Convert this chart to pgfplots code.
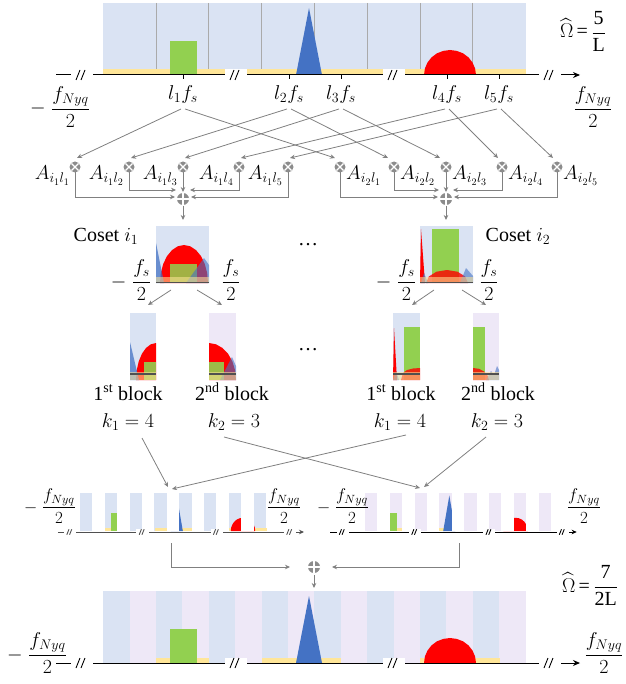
\RequirePackage{fix-cm}
\documentclass[border=0pt]{standalone}
\usepackage{amsmath}
\usepackage{fontspec}
\setmainfont{Liberation Serif}
\usepackage{pgfplots}
\pgfplotsset{compat=1.18}
\usepackage{pgfplotstable}
\usetikzlibrary{arrows.meta}

\definecolor{bgblue}{RGB}{218,227,243}
\definecolor{bgpurp}{RGB}{238,232,247}
\definecolor{yel}{RGB}{255,230,153}
\definecolor{greenc}{RGB}{146,208,80}
\definecolor{bluec}{RGB}{68,114,196}
\definecolor{redc}{RGB}{255,0,0}
\definecolor{arrg}{RGB}{128,128,128}
\definecolor{circg}{RGB}{140,140,140}
\definecolor{vlg}{RGB}{170,170,170}
\definecolor{darkg}{RGB}{80,80,80}

\pgfplotstableread{
x y
170 41
197 41
197 75
170 75
}\greenshape
\pgfplotstableread{
x y
296 75
309 8
322 75
}\trishape
\pgfplotstableread{
x y
476 75
475.1 68.5
472.5 62.5
468.4 57.3
463 53.3
456.7 50.9
450 50
443.3 50.9
437 53.3
431.6 57.3
427.5 62.5
424.9 68.5
424 75
}\redshape

\pgfplotsset{
 /pgfplots/table/FP/.style={y expr={\thisrow{y}+588}},
 /pgfplots/table/LL/.style={x expr={80+(\thisrow{x}-103.2)*0.47},y expr={531-(75-\thisrow{y})*0.53}},
 /pgfplots/table/LR/.style={x expr={365+(\thisrow{x}-129.6)*0.47},y expr={531-(75-\thisrow{y})*0.53}},
}
\tikzset{ar/.style={draw=arrg,line width=0.8pt,-{Stealth[length=5pt,width=4.5pt]}},
 lb/.style={inner sep=0pt,anchor=base}}

\newcommand{\F}[1]{\fontsize{#1}{#1}\selectfont}
\newcommand{\rect}[5]{\addplot[#5,draw=none] coordinates {(#1,#3) (#2,#3) (#2,#4) (#1,#4)};}
\newcommand{\otim}[2]{\fill[circg] (axis cs:#1,#2) circle[radius=5.5pt];
 \draw[white,line width=1.1pt] (axis cs:#1,#2) ++(-3.6pt,-3.6pt) -- ++(7.2pt,7.2pt);
 \draw[white,line width=1.1pt] (axis cs:#1,#2) ++(-3.6pt,3.6pt) -- ++(7.2pt,-7.2pt);}
\newcommand{\oplu}[2]{\fill[circg] (axis cs:#1,#2) circle[radius=6pt];
 \draw[white,line width=1.1pt] (axis cs:#1,#2) ++(-6pt,0pt) -- ++(12pt,0pt);
 \draw[white,line width=1.1pt] (axis cs:#1,#2) ++(0pt,-6pt) -- ++(0pt,12pt);}
\newcommand{\brk}[4]{\fill[white] (axis cs:#1,#2) ++({-11*#3pt},{-5.5*#3pt}) rectangle ++({22*#3pt},{11*#3pt});
 \draw[#4,line width=0.9pt] (axis cs:#1,#2) ++({-6*#3pt},{-5*#3pt}) -- ++({4*#3pt},{10*#3pt});
 \draw[#4,line width=0.9pt] (axis cs:#1,#2) ++({-1*#3pt},{-5*#3pt}) -- ++({4*#3pt},{10*#3pt});}

\begin{document}
\begin{tikzpicture}
\useasboundingbox (0,0) rectangle (625pt,684pt);
\begin{axis}[at={(0pt,0pt)},anchor=south west,width=625pt,height=684pt,scale only axis,
  xmin=0,xmax=625,ymin=0,ymax=684,y dir=reverse,axis lines=none,clip=false]

%%%%%%%%%%%%%%%% TOP PANEL
\rect{103.2}{525.6}{3}{75}{fill=bgblue}
\draw[vlg,line width=0.7pt] (axis cs:156,3)--(axis cs:156,75) (axis cs:208.8,3)--(axis cs:208.8,75)
  (axis cs:261.6,3)--(axis cs:261.6,75) (axis cs:314.4,3)--(axis cs:314.4,75)
  (axis cs:367.2,3)--(axis cs:367.2,75) (axis cs:420,3)--(axis cs:420,75) (axis cs:472.8,3)--(axis cs:472.8,75);
\rect{103.2}{525.6}{69}{75}{fill=yel}
\addplot[fill=greenc,draw=none] table {\greenshape};
\addplot[fill=bluec,draw=none] table {\trishape};
\addplot[fill=redc,draw=none] table {\redshape};
\draw[line width=1pt,-{Stealth[length=7pt,width=6pt]}] (axis cs:56,75) -- (axis cs:580,75);
\draw[line width=0.8pt] (axis cs:183,75)--(axis cs:183,79) (axis cs:289,75)--(axis cs:289,79)
  (axis cs:341,75)--(axis cs:341,79) (axis cs:447,75)--(axis cs:447,79) (axis cs:499,75)--(axis cs:499,79);
\brk{82}{75}{1}{black}
\brk{236}{75}{1}{black}
\brk{394}{75}{1}{black}
\brk{550}{75}{1}{black}
\node[lb,font=\F{20}] at (axis cs:60,114) {$-\;\dfrac{f_{Nyq}}{2}$};
\node[lb,font=\F{20}] at (axis cs:593,114) {$\dfrac{f_{Nyq}}{2}$};
\node[lb,font=\F{20}] at (axis cs:583,38) {$\widehat{\Omega}$\,=\,$\dfrac{\text{5}}{\text{L}}$};
\node[lb,font=\F{20}] at (axis cs:183,100) {$l_1f_s$};
\node[lb,font=\F{20}] at (axis cs:289,100) {$l_2f_s$};
\node[lb,font=\F{20}] at (axis cs:341,100) {$l_3f_s$};
\node[lb,font=\F{20}] at (axis cs:447,100) {$l_4f_s$};
\node[lb,font=\F{20}] at (axis cs:499,100) {$l_5f_s$};

%%%%%%%%%%%%%%%% MULTIPLIERS
\draw[ar] (axis cs:181,109) -- (axis cs:77,158);
\draw[ar] (axis cs:185,109) -- (axis cs:335,158);
\draw[ar] (axis cs:287,109) -- (axis cs:131,158);
\draw[ar] (axis cs:291,109) -- (axis cs:388,158);
\draw[ar] (axis cs:339,109) -- (axis cs:185,158);
\draw[ar] (axis cs:343,109) -- (axis cs:440,158);
\draw[ar] (axis cs:445,109) -- (axis cs:241,158);
\draw[ar] (axis cs:449,109) -- (axis cs:498,158);
\draw[ar] (axis cs:497,109) -- (axis cs:290,158);
\draw[ar] (axis cs:501,109) -- (axis cs:553,158);

\draw[ar] (axis cs:75,172) -- (axis cs:75,197) -- (axis cs:175,197);
\draw[ar] (axis cs:129,172) -- (axis cs:129,190) -- (axis cs:176,190);
\draw[ar] (axis cs:183,172) -- (axis cs:183,192);
\draw[ar] (axis cs:239,172) -- (axis cs:239,190) -- (axis cs:190,190);
\draw[ar] (axis cs:288,172) -- (axis cs:288,197) -- (axis cs:191,197);
\draw[ar] (axis cs:340,172) -- (axis cs:340,197) -- (axis cs:438,197);
\draw[ar] (axis cs:394,172) -- (axis cs:394,190) -- (axis cs:439,190);
\draw[ar] (axis cs:446,172) -- (axis cs:446,192);
\draw[ar] (axis cs:502,172) -- (axis cs:502,190) -- (axis cs:453,190);
\draw[ar] (axis cs:557,172) -- (axis cs:557,197) -- (axis cs:454,197);
\draw[ar] (axis cs:183,206) -- (axis cs:183,220);
\draw[ar] (axis cs:446,206) -- (axis cs:446,220);

\otim{75}{167}\otim{129}{167}\otim{183}{167}\otim{239}{167}\otim{288}{167}
\otim{340}{167}\otim{394}{167}\otim{446}{167}\otim{502}{167}\otim{557}{167}
\oplu{183}{199}\oplu{446}{199}

\node[inner sep=0pt,anchor=base east,font=\F{20}] at (axis cs:70,180) {$A_{i_1l_1}$};
\node[inner sep=0pt,anchor=base east,font=\F{20}] at (axis cs:124,180) {$A_{i_1l_2}$};
\node[inner sep=0pt,anchor=base east,font=\F{20}] at (axis cs:178,180) {$A_{i_1l_3}$};
\node[inner sep=0pt,anchor=base east,font=\F{20}] at (axis cs:234,180) {$A_{i_1l_4}$};
\node[inner sep=0pt,anchor=base east,font=\F{20}] at (axis cs:283,180) {$A_{i_1l_5}$};
\node[inner sep=0pt,anchor=base west,font=\F{20}] at (axis cs:346,180) {$A_{i_2l_1}$};
\node[inner sep=0pt,anchor=base west,font=\F{20}] at (axis cs:400,180) {$A_{i_2l_2}$};
\node[inner sep=0pt,anchor=base west,font=\F{20}] at (axis cs:452,180) {$A_{i_2l_3}$};
\node[inner sep=0pt,anchor=base west,font=\F{20}] at (axis cs:508,180) {$A_{i_2l_4}$};
\node[inner sep=0pt,anchor=base west,font=\F{20}] at (axis cs:563,180) {$A_{i_2l_5}$};

%%%%%%%%%%%%%%%% COSETS
\rect{156}{209}{226}{283}{fill=bgblue}
\addplot[fill=redc,draw=none] coordinates {(208,283)(207.2,273.2)(204.8,264)(201,256.1)(196,250.1)(190.2,246.3)(184,245)(177.8,246.3)(172,250.1)(167,256.1)(163.2,264)(160.8,273.2)(160,283)};
\addplot[fill=bluec,fill opacity=0.75,draw=none] coordinates {(156,243)(164,283)(156,283)};
\rect{170}{197}{264}{283}{fill=greenc,fill opacity=0.85}
\addplot[fill=bluec,fill opacity=0.6,draw=none] coordinates {(186,283)(204,258)(209,265)(209,283)};
\rect{156}{209}{277}{283}{fill=yel,fill opacity=0.55}
\draw[darkg,line width=1.2pt] (axis cs:156,282.5) -- (axis cs:209,282.5);

\rect{420}{473}{226}{283}{fill=bgblue}
\rect{432}{459}{229}{283}{fill=greenc}
\addplot[fill=redc,draw=none] coordinates {(420,283)(421,229)(425,283)};
\addplot[fill=redc,fill opacity=0.8,draw=none] coordinates {(468,283)(465.2,276.5)(457.5,271.7)(447,270)(436.5,271.7)(428.8,276.5)(426,283)};
\addplot[fill=bluec,fill opacity=0.6,draw=none] coordinates {(460,283)(466,268)(473,276)(473,283)};
\addplot[fill=bluec,fill opacity=0.6,draw=none] coordinates {(421,283)(424,273)(428,283)};
\rect{420}{473}{277}{283}{fill=yel,fill opacity=0.55}
\draw[darkg,line width=1.2pt] (axis cs:420,282.5) -- (axis cs:473,282.5);

\node[lb,font=\F{20}] at (axis cs:106,242) {Coset $i_1$};
\node[lb,font=\F{20}] at (axis cs:518,242) {Coset $i_2$};
\node[lb,font=\F{20}] at (axis cs:131,287) {$-\;\dfrac{f_s}{2}$};
\node[lb,font=\F{20}] at (axis cs:231,287) {$\dfrac{f_s}{2}$};
\node[lb,font=\F{20}] at (axis cs:396,287) {$-\;\dfrac{f_s}{2}$};
\node[lb,font=\F{20}] at (axis cs:489,287) {$\dfrac{f_s}{2}$};
\node[lb,font=\F{20}] at (axis cs:308,246) {\dots};
\node[lb,font=\F{20}] at (axis cs:308,350) {\dots};

\draw[ar] (axis cs:171,290) -- (axis cs:148,305);
\draw[ar] (axis cs:197,290) -- (axis cs:222,305);
\draw[ar] (axis cs:434,290) -- (axis cs:412,305);
\draw[ar] (axis cs:462,290) -- (axis cs:486,305);

%%%%%%%%%%%%%%%% BLOCKS
% L1
\rect{130}{156}{313}{380}{fill=bgblue}
\addplot[fill=redc,draw=none] coordinates {(136,380)(136.7,370.4)(138.7,361.5)(141.9,353.8)(146,348)(150.8,344.3)(156,343)(156,380)};
\addplot[fill=bluec,fill opacity=0.75,draw=none] coordinates {(130,342)(139,380)(130,380)};
\rect{144}{156}{362}{380}{fill=greenc,fill opacity=0.9}
\rect{130}{156}{372}{380}{fill=yel,fill opacity=0.55}
\draw[darkg,line width=1.2pt] (axis cs:130,374) -- (axis cs:156,374);
% L2
\rect{209}{236}{313}{380}{fill=bgpurp}
\addplot[fill=redc,draw=none] coordinates {(209,343)(216,344.3)(222.5,348)(228.1,353.8)(232.4,361.5)(235.1,370.4)(236,380)(209,380)};
\rect{209}{224}{362}{380}{fill=greenc,fill opacity=0.9}
\addplot[fill=bluec,fill opacity=0.6,draw=none] coordinates {(220,380)(232,357)(236,366)(236,380)};
\rect{209}{236}{372}{380}{fill=yel,fill opacity=0.55}
\draw[darkg,line width=1.2pt] (axis cs:209,374) -- (axis cs:236,374);
% R1
\rect{393}{420}{313}{380}{fill=bgblue}
\addplot[fill=redc,draw=none] coordinates {(393,380)(394,328)(397,380)};
\rect{404}{420}{327}{380}{fill=greenc}
\addplot[fill=redc,fill opacity=0.8,draw=none] coordinates {(401,380)(403,373)(407,370)(413,368.5)(420,368)(420,380)};
\addplot[fill=bluec,fill opacity=0.6,draw=none] coordinates {(393,380)(396,371)(399,380)};
\rect{393}{420}{372}{380}{fill=yel,fill opacity=0.55}
\draw[darkg,line width=1.2pt] (axis cs:393,374) -- (axis cs:420,374);
% R2
\rect{473}{499}{313}{380}{fill=bgpurp}
\rect{473}{485}{327}{380}{fill=greenc}
\addplot[fill=redc,fill opacity=0.8,draw=none] coordinates {(473,368)(479,368.8)(484,371.5)(487.5,375.5)(489,380)(473,380)};
\addplot[fill=bluec,fill opacity=0.6,draw=none] coordinates {(486,380)(491,371)(494,375)(497,366)(499,370)(499,380)};
\rect{473}{499}{372}{380}{fill=yel,fill opacity=0.55}
\draw[darkg,line width=1.2pt] (axis cs:473,374) -- (axis cs:499,374);

\node[lb,font=\F{20}] at (axis cs:128,400) {1\textsuperscript{st} block};
\node[lb,font=\F{20}] at (axis cs:232,400) {2\textsuperscript{nd} block};
\node[lb,font=\F{20}] at (axis cs:401,400) {1\textsuperscript{st} block};
\node[lb,font=\F{20}] at (axis cs:498,400) {2\textsuperscript{nd} block};
\node[lb,font=\F{20}] at (axis cs:128,427) {$k_1 = 4$};
\node[lb,font=\F{20}] at (axis cs:234,427) {$k_2 = 3$};
\node[lb,font=\F{20}] at (axis cs:400,427) {$k_1 = 4$};
\node[lb,font=\F{20}] at (axis cs:497,427) {$k_2 = 3$};

\draw[ar] (axis cs:142,438) -- (axis cs:168,487);
\draw[ar] (axis cs:406,435) -- (axis cs:172,489);
\draw[ar] (axis cs:224,437) -- (axis cs:420,488);
\draw[ar] (axis cs:486,437) -- (axis cs:424,487);

%%%%%%%%%%%%%%%% LOWER LEFT
\rect{80}{92.41}{493}{531}{fill=bgblue}
\rect{104.82}{117.22}{493}{531}{fill=bgblue}
\rect{129.63}{142.04}{493}{531}{fill=bgblue}
\rect{154.45}{166.86}{493}{531}{fill=bgblue}
\rect{179.26}{191.67}{493}{531}{fill=bgblue}
\rect{204.08}{216.49}{493}{531}{fill=bgblue}
\rect{228.90}{241.30}{493}{531}{fill=bgblue}
\rect{253.71}{266.12}{493}{531}{fill=bgblue}
\rect{104.8}{129.7}{527.8}{531}{fill=yel}
\rect{154.6}{191.7}{527.8}{531}{fill=yel}
\rect{228.9}{266.5}{527.8}{531}{fill=yel}
\addplot[fill=greenc,draw=none] table[LL] {\greenshape};
\addplot[fill=bluec,draw=none] table[LL] {\trishape};
\addplot[fill=redc,draw=none] table[LL] {\redshape};
\rect{92.41}{104.82}{490}{531.3}{fill=white}
\rect{117.22}{129.63}{490}{531.3}{fill=white}
\rect{142.04}{154.45}{490}{531.3}{fill=white}
\rect{166.86}{179.26}{490}{531.3}{fill=white}
\rect{191.67}{204.08}{490}{531.3}{fill=white}
\rect{216.49}{228.90}{490}{531.3}{fill=white}
\rect{241.30}{253.71}{490}{531.3}{fill=white}
\draw[darkg,line width=1pt,-{Stealth[length=5pt,width=4.5pt]}] (axis cs:57.8,532) -- (axis cs:304,532);
\brk{70.1}{532}{0.55}{darkg}
\brk{142.5}{532}{0.55}{darkg}
\brk{216.7}{532}{0.55}{darkg}
\brk{290}{532}{0.55}{darkg}
\node[lb,font=\F{17}] at (axis cs:50,512) {$-\;\dfrac{f_{Nyq}}{2}$};
\node[lb,font=\F{17}] at (axis cs:284,512) {$\dfrac{f_{Nyq}}{2}$};

%%%%%%%%%%%%%%%% LOWER RIGHT
\rect{365}{377.41}{493}{531}{fill=bgpurp}
\rect{389.82}{402.22}{493}{531}{fill=bgpurp}
\rect{414.63}{427.04}{493}{531}{fill=bgpurp}
\rect{439.45}{451.86}{493}{531}{fill=bgpurp}
\rect{464.26}{476.67}{493}{531}{fill=bgpurp}
\rect{489.08}{501.49}{493}{531}{fill=bgpurp}
\rect{513.90}{526.30}{493}{531}{fill=bgpurp}
\rect{538.71}{551.12}{493}{531}{fill=bgpurp}
\rect{377.4}{402.3}{527.8}{531}{fill=yel}
\rect{427.2}{464.3}{527.8}{531}{fill=yel}
\rect{501.5}{539.1}{527.8}{531}{fill=yel}
\addplot[fill=greenc,draw=none] table[LR] {\greenshape};
\addplot[fill=bluec,draw=none] table[LR] {\trishape};
\addplot[fill=redc,draw=none] table[LR] {\redshape};
\rect{377.41}{389.82}{490}{531.3}{fill=white}
\rect{402.22}{414.63}{490}{531.3}{fill=white}
\rect{427.04}{439.45}{490}{531.3}{fill=white}
\rect{451.86}{464.26}{490}{531.3}{fill=white}
\rect{476.67}{489.08}{490}{531.3}{fill=white}
\rect{501.49}{513.90}{490}{531.3}{fill=white}
\rect{526.30}{538.71}{490}{531.3}{fill=white}
\draw[black,line width=1pt,-{Stealth[length=5pt,width=4.5pt]}] (axis cs:330.4,532) -- (axis cs:576.7,532);
\brk{342.6}{532}{0.55}{black}
\brk{415}{532}{0.55}{black}
\brk{489.3}{532}{0.55}{black}
\brk{562.6}{532}{0.55}{black}
\node[lb,font=\F{17}] at (axis cs:343,512) {$-\;\dfrac{f_{Nyq}}{2}$};
\node[lb,font=\F{17}] at (axis cs:584,512) {$\dfrac{f_{Nyq}}{2}$};

%%%%%%%%%%%%%%%% SUM
\draw[ar] (axis cs:171,543) -- (axis cs:171,567) -- (axis cs:290,567);
\draw[ar] (axis cs:459,543) -- (axis cs:459,567) -- (axis cs:332,567);
\oplu{314}{567}
\draw[ar] (axis cs:314,575) -- (axis cs:314,588);

%%%%%%%%%%%%%%%% FINAL PANEL
\rect{103.2}{525.6}{591}{663}{fill=bgblue}
\rect{129.6}{156}{591}{663}{fill=bgpurp}
\rect{182.4}{208.8}{591}{663}{fill=bgpurp}
\rect{235.2}{261.6}{591}{663}{fill=bgpurp}
\rect{288}{314.4}{591}{663}{fill=bgpurp}
\rect{340.8}{367.2}{591}{663}{fill=bgpurp}
\rect{393.6}{420}{591}{663}{fill=bgpurp}
\rect{446.4}{472.8}{591}{663}{fill=bgpurp}
\rect{499.2}{525.6}{591}{663}{fill=bgpurp}
\rect{156}{209}{657.5}{663}{fill=yel}
\rect{262}{341}{657.5}{663}{fill=yel}
\rect{420}{500}{657.5}{663}{fill=yel}
\addplot[fill=greenc,draw=none] table[FP] {\greenshape};
\addplot[fill=bluec,draw=none] table[FP] {\trishape};
\addplot[fill=redc,draw=none] table[FP] {\redshape};
\draw[line width=1pt,-{Stealth[length=7pt,width=6pt]}] (axis cs:56,663) -- (axis cs:580,663);
\brk{82}{663}{1}{black}
\brk{236}{663}{1}{black}
\brk{394}{663}{1}{black}
\brk{550}{663}{1}{black}
\node[lb,font=\F{20}] at (axis cs:37,660) {$-\;\dfrac{f_{Nyq}}{2}$};
\node[lb,font=\F{20}] at (axis cs:604,660) {$\dfrac{f_{Nyq}}{2}$};
\node[lb,font=\F{20}] at (axis cs:590,592) {$\widehat{\Omega}$\,=\,$\dfrac{\text{7}}{\text{2L}}$};

\end{axis}
\end{tikzpicture}
\end{document}
